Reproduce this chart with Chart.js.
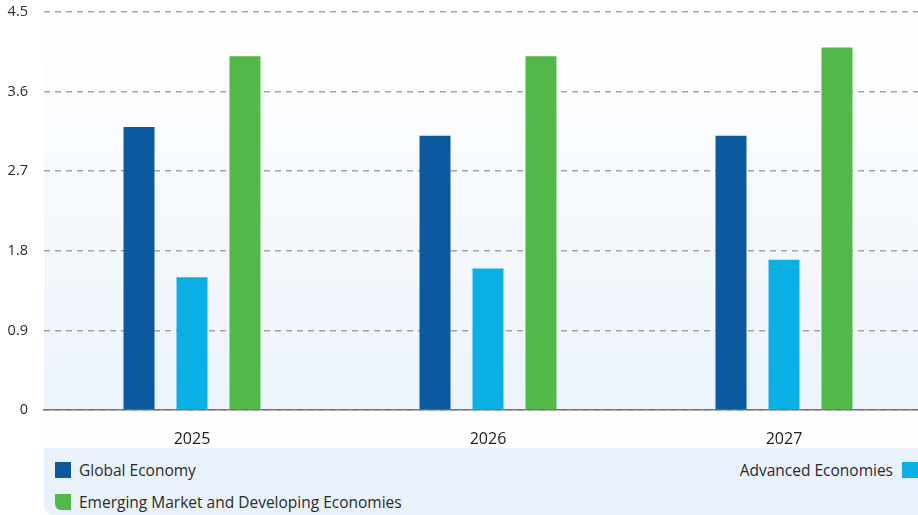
<!DOCTYPE html>
<html>
<head>
<meta charset="utf-8">
<script src="https://cdn.jsdelivr.net/npm/chart.js@4/dist/chart.umd.min.js"></script>
<style>
  html, body { margin: 0; padding: 0; background: #ffffff; width: 918px; height: 515px; overflow: hidden; }
  #wrap { position: relative; width: 932px; height: 448px; }
  #legend { position: absolute; left: 44px; top: 448px; width: 890px; height: 67px; background: #e9f1fa;
            border-bottom-left-radius: 9px; font-family: "Open Sans", sans-serif; font-size: 15.5px; color: #2b2b2b; }
  .item { position: absolute; display: flex; align-items: center; height: 16px; white-space: nowrap; }
  .sw { width: 16px; height: 16px; display: inline-block; flex: none; }
</style>
</head>
<body>
<div id="wrap"><canvas id="c" width="932" height="448"></canvas></div>
<div id="legend"></div>
<script>
const categories = ["2025", "2026", "2027"];
const seriesNames = ["Global Economy", "Advanced Economies", "Emerging Market and Developing Economies"];
const globalEconomy = [3.2, 3.1, 3.1];
const advancedEconomies = [1.5, 1.6, 1.7];
const emergingEconomies = [4.0, 4.0, 4.1];
const yTicks = [0, 0.9, 1.8, 2.7, 3.6, 4.5];
const colors = ["#0b599e", "#0ab0e4", "#52b84a"];

const bgPlugin = {
  id: 'bg',
  beforeDraw(chart) {
    const { ctx, chartArea } = chart;
    ctx.save();
    const g = ctx.createLinearGradient(0, chartArea.top, 0, chartArea.bottom);
    g.addColorStop(0, '#ffffff');
    g.addColorStop(1, '#ecf3fb');
    ctx.fillStyle = g;
    ctx.fillRect(chartArea.left, chartArea.top, chart.width - chartArea.left, chartArea.bottom - chartArea.top);
    ctx.fillStyle = '#fdfeff';
    ctx.fillRect(chartArea.left, chartArea.bottom, chart.width - chartArea.left, chart.height - chartArea.bottom);
    ctx.restore();
  }
};

const chart = new Chart(document.getElementById('c'), {
  type: 'bar',
  data: {
    labels: categories,
    datasets: [
      { label: seriesNames[0], data: globalEconomy, backgroundColor: colors[0] },
      { label: seriesNames[1], data: advancedEconomies, backgroundColor: colors[1] },
      { label: seriesNames[2], data: emergingEconomies, backgroundColor: colors[2] }
    ]
  },
  options: {
    responsive: false,
    animation: false,
    layout: { padding: { top: 12, left: 0, right: 0, bottom: 0 } },
    datasets: { bar: { barPercentage: 0.585, categoryPercentage: 0.537 } },
    plugins: { legend: { display: false }, tooltip: { enabled: false } },
    scales: {
      x: {
        grid: { display: false },
        border: { display: true, color: '#777777', width: 1.5 },
        ticks: { color: '#222222', font: { family: 'Open Sans', size: 16 }, padding: 12 },
        afterFit(s) { s.height = 38; s.paddingTop = 0; s.paddingBottom = 0; }
      },
      y: {
        min: 0, max: 4.5,
        afterBuildTicks(s) { s.ticks = yTicks.map(v => ({ value: v })); },
        grid: { color: '#a3a3a3', lineWidth: 1.5, drawTicks: false },
        border: { display: false, dash: [6, 5] },
        ticks: { color: '#2b2b2b', font: { family: 'Open Sans', size: 14.5 }, padding: 16,
                 callback: v => String(v) },
        afterFit(s) { s.width = 44; s.paddingTop = 0; s.paddingBottom = 0; }
      }
    }
  },
  plugins: [bgPlugin]
});

// HTML legend built from the chart datasets
const lg = document.getElementById('legend');
const pos = [
  { left: 11, top: 14, swFirst: true },
  { right: 16, top: 14, swFirst: false },
  { left: 11, top: 46, swFirst: true }
];
chart.data.datasets.forEach((ds, i) => {
  const it = document.createElement('div');
  it.className = 'item';
  const p = pos[i];
  if (p.left !== undefined) it.style.left = p.left + 'px';
  if (p.right !== undefined) it.style.right = p.right + 'px';
  it.style.top = p.top + 'px';
  const sw = document.createElement('span');
  sw.className = 'sw';
  sw.style.background = ds.backgroundColor;
  if (i === 2) sw.style.borderBottomLeftRadius = '6px';
  const tx = document.createElement('span');
  tx.textContent = ds.label;
  if (p.swFirst) { tx.style.marginLeft = '8px'; it.appendChild(sw); it.appendChild(tx); }
  else { tx.style.marginRight = '9px'; it.appendChild(tx); it.appendChild(sw); }
  lg.appendChild(it);
});
</script>
</body>
</html>
